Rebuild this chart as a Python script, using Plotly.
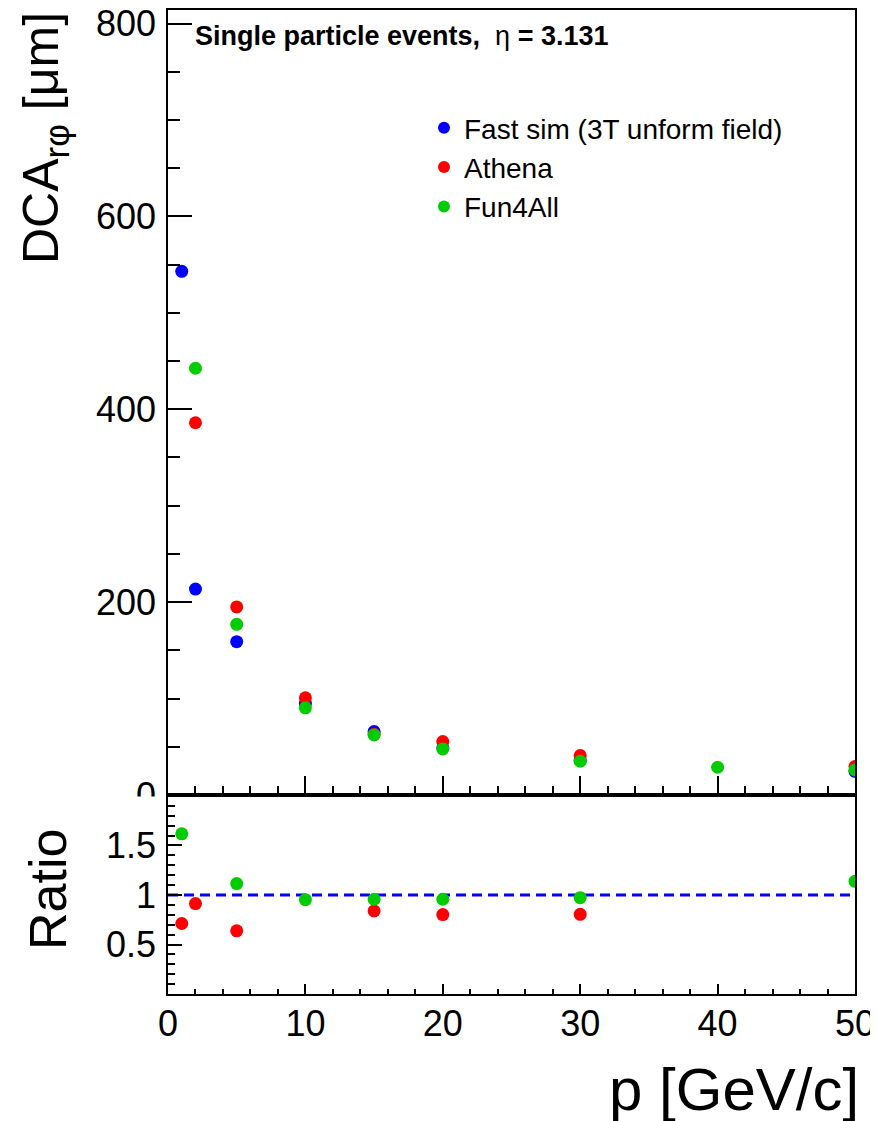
import plotly.graph_objects as go

# ---- data ----
p_fast = [1, 2, 5, 10, 15, 20, 30, 50]
dca_fast = [543, 213.5, 159, 95, 65.8, 49, 36, 24.5]

p_athena = [2, 5, 10, 15, 20, 30, 50]
dca_athena = [386, 195, 100.8, 63, 55.4, 40.9, 29.5]

p_f4a = [2, 5, 10, 15, 20, 30, 40, 50]
dca_f4a = [442.5, 177, 90.4, 62.3, 47.8, 35, 28.8, 26]

p_ratio_athena = [1, 2, 5, 15, 20, 30]
ratio_athena = [0.712, 0.913, 0.638, 0.839, 0.802, 0.805]

p_ratio_f4a = [1, 5, 10, 15, 20, 30, 50]
ratio_f4a = [1.618, 1.115, 0.953, 0.957, 0.957, 0.973, 1.138]

ref_x = [0, 50]
ref_y = [1, 1]

y_ticks_top = [0, 200, 400, 600, 800]
y_ticks_ratio = [0.5, 1, 1.5]
y_ticktext_ratio = ["0.5", "1", "1.5"]
x_ticks = [0, 10, 20, 30, 40, 50]

BLUE = "#0000FF"
RED = "#FF0000"
GREEN = "#00CC00"
FONT = "Liberation Sans"

# page body has an 8px margin: compensate so the plot frame lands where wanted
OX, OY = 8, 8
PAGE_W, PAGE_H = 878, 1121
W, H = PAGE_W - OX, PAGE_H - OY
FRAME_L, FRAME_R, FRAME_T, FRAME_B = 168, 855, 10, 994
L, T = FRAME_L - OX, FRAME_T - OY
R, B = PAGE_W - FRAME_R, PAGE_H - FRAME_B
PW, PH = FRAME_R - FRAME_L, FRAME_B - FRAME_T


def px_x(px):
    return (px - FRAME_L) / PW


def px_y(py):
    return (FRAME_B - py) / PH


split = px_y(795)

fig = go.Figure()

mk = dict(size=13, line=dict(width=0))
fig.add_trace(go.Scatter(x=p_fast, y=dca_fast, mode="markers", name="Fast sim (3T unform field)",
                         marker=dict(color=BLUE, **mk), xaxis="x", yaxis="y"))
fig.add_trace(go.Scatter(x=p_athena, y=dca_athena, mode="markers", name="Athena",
                         marker=dict(color=RED, **mk), xaxis="x", yaxis="y"))
fig.add_trace(go.Scatter(x=p_f4a, y=dca_f4a, mode="markers", name="Fun4All",
                         marker=dict(color=GREEN, **mk), xaxis="x", yaxis="y"))

fig.add_trace(go.Scatter(x=ref_x, y=ref_y, mode="lines", showlegend=False,
                         line=dict(color=BLUE, width=3, dash="10px,6px"), xaxis="x2", yaxis="y2"))
fig.add_trace(go.Scatter(x=p_ratio_athena, y=ratio_athena, mode="markers", showlegend=False,
                         marker=dict(color=RED, **mk), xaxis="x2", yaxis="y2"))
fig.add_trace(go.Scatter(x=p_ratio_f4a, y=ratio_f4a, mode="markers", showlegend=False,
                         marker=dict(color=GREEN, **mk), xaxis="x2", yaxis="y2"))

axis_common = dict(showgrid=False, zeroline=False, showline=True, linecolor="black",
                   linewidth=1.5, mirror=True, ticks="inside", tickcolor="black",
                   automargin=False, ticklabeloverflow="allow",
                   tickfont=dict(family=FONT, size=36, color="black"))

fig.update_layout(
    width=W, height=H,
    margin=dict(l=L, r=R, t=T, b=B, autoexpand=False),
    paper_bgcolor="white", plot_bgcolor="white",
    font=dict(family=FONT, color="black"),
    xaxis=dict(domain=[0, 1], range=[0, 50], anchor="y", tickvals=x_ticks, showticklabels=False,
               ticklen=19, tickwidth=1.5,
               minor=dict(dtick=2, ticklen=9, ticks="inside", tickcolor="black", tickwidth=1.5),
               **axis_common),
    yaxis=dict(domain=[split, 1], range=[0, 814], anchor="x", tickvals=y_ticks_top,
               ticklen=24, tickwidth=1.5, ticklabelstandoff=3,
               minor=dict(dtick=50, ticklen=12, ticks="inside", tickcolor="black", tickwidth=1.5),
               **axis_common),
    xaxis2=dict(domain=[0, 1], range=[0, 50], anchor="y2", tickvals=x_ticks,
                ticklen=10, tickwidth=1.5, ticklabelstandoff=-3,
                minor=dict(dtick=2, ticklen=5, ticks="inside", tickcolor="black", tickwidth=1.5),
                **axis_common),
    yaxis2=dict(domain=[0, split], range=[0, 2.01], anchor="x2", tickvals=y_ticks_ratio,
                ticktext=y_ticktext_ratio, ticklen=14, tickwidth=1.5, ticklabelstandoff=3,
                minor=dict(dtick=0.1, ticklen=7, ticks="inside", tickcolor="black", tickwidth=1.5),
                **axis_common),
    legend=dict(x=px_x(424), y=px_y(103), xanchor="left", yanchor="top",
                font=dict(family=FONT, size=28, color="black"),
                bgcolor="rgba(0,0,0,0)", borderwidth=0, itemsizing="constant"),
    showlegend=True,
)

fig.add_annotation(text="<b>Single particle events,</b>  η <b>= 3.131</b>", xref="paper", yref="paper",
                   x=px_x(193), y=px_y(36), xanchor="left", yanchor="middle", showarrow=False,
                   font=dict(family=FONT, size=27, color="black"))
fig.add_annotation(text="DCA<sub>rφ</sub> [μm]", xref="paper", yref="paper",
                   x=px_x(44), y=px_y(10), xanchor="center", yanchor="top", textangle=-90,
                   showarrow=False, font=dict(family=FONT, size=50, color="black"))
fig.add_annotation(text="Ratio", xref="paper", yref="paper",
                   x=px_x(48), y=px_y(890), xanchor="center", yanchor="middle", textangle=-90,
                   showarrow=False, font=dict(family=FONT, size=52, color="black"))
fig.add_annotation(text="p [GeV/c]", xref="paper", yref="paper",
                   x=px_x(861), y=px_y(1089), xanchor="right", yanchor="middle",
                   showarrow=False, font=dict(family=FONT, size=60, color="black"))

# ratio pad hides the lower half of the top panel's "0" label
fig.add_shape(type="rect", xref="paper", yref="paper", x0=px_x(80), x1=px_x(166),
              y0=px_y(796.5), y1=px_y(812), fillcolor="white", line=dict(width=0), layer="above")

fig.write_html("out.html")
